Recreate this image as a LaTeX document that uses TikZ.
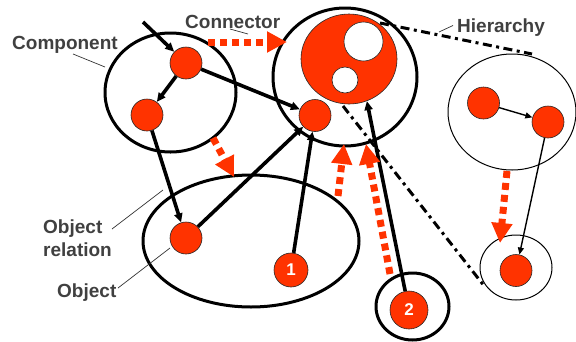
\documentclass[tikz,border=0pt]{standalone}
\usepackage{fontspec}
\setmainfont{Liberation Sans}
\usetikzlibrary{arrows.meta,shapes.geometric}
\definecolor{redfill}{RGB}{255,51,0}
\definecolor{lbl}{RGB}{64,64,64}
\begin{document}
\begin{tikzpicture}[x=1pt,y=-1pt,
  obj/.style={circle,fill=redfill,draw=black!85,line width=0.6pt,minimum size=32pt,inner sep=0pt},
  ring/.style={ellipse,draw=black,line width=3pt,inner sep=0pt},
  thinring/.style={ellipse,draw=black,line width=1pt,inner sep=0pt},
  blk/.style={line width=3.6pt,-{Triangle[length=9pt,width=8pt]}},
  thinarr/.style={line width=1.4pt,-{Triangle[length=7pt,width=6pt]}},
  redarr/.style={draw=redfill,line width=7pt,dash pattern=on 7pt off 5pt,
     -{Triangle[length=20pt,width=20pt]},shorten >=0pt},
  dashdot/.style={line width=3pt,dash pattern=on 9pt off 4.5pt on 3pt off 4.5pt},
  lead/.style={line width=0.7pt,draw=black!80},
  txt/.style={text=lbl,font=\fontsize{19}{22}\selectfont\bfseries,inner sep=0pt},
  num/.style={text=white,font=\fontsize{17}{20}\selectfont\bfseries}]
\useasboundingbox (0,0) rectangle (576,341);
% containers
\node[ring,minimum width=131pt,minimum height=119pt] (comp) at (170.5,92.5) {};
\node[ring,minimum width=144pt,minimum height=138pt] (conn) at (345,77) {};
\node[ring,minimum width=216pt,minimum height=132pt] (objring) at (251,241) {};
\node[ring,minimum width=73pt,minimum height=67pt] (ring2) at (412.5,306.5) {};
\node[thinring,minimum width=128pt,minimum height=116pt] (hier) at (512,112) {};
\node[thinring,minimum width=72pt,minimum height=65pt] (ringG) at (516,267.5) {};
% core
\node[ellipse,fill=redfill,draw=black!85,line width=0.6pt,minimum width=96pt,minimum height=90pt,inner sep=0pt] (core) at (349,59) {};
\node[circle,fill=white,draw=black!85,line width=0.6pt,minimum size=39pt,inner sep=0pt] (hole1) at (363.5,41.5) {};
\node[circle,fill=white,draw=black!85,line width=0.6pt,minimum size=26pt,inner sep=0pt] (hole2) at (345,80) {};
% objects
\node[obj] (A) at (186,63) {};
\node[obj] (B) at (147,115) {};
\node[obj] (C) at (315,115.5) {};
\node[obj] (D) at (186,238) {};
\node[obj,minimum size=34pt] (n1) at (291,270) {};
\node[num] at (n1) {1};
\node[obj,minimum size=38pt] (n2) at (409,310) {};
\node[num] at (n2) {2};
\node[obj] (E) at (483.5,103) {};
\node[obj] (F) at (548,122) {};
\node[obj] (G) at (516,270.5) {};
% black connectors
\coordinate (inA) at (143,22);
\draw[blk] (inA) -- (A);
\draw[blk] (A) -- (B);
\draw[blk] (A) -- (C);
\draw[blk] (B) -- (D);
\draw[blk] (D) -- (C);
\draw[blk] (n1) -- (C);
\draw[blk] (n2) -- (core.-67);
\draw[thinarr] (E) -- (F);
\draw[thinarr] (F) -- (G);
% hierarchy lines
\coordinate (h1s) at (380,23);
\coordinate (h1e) at (532,54);
\coordinate (h2s) at (343,106);
\coordinate (h2e) at (485,287);
\draw[dashdot] (h1s) -- (h1e);
\draw[dashdot] (h2s) -- (h2e);
% red dashed arrows
\coordinate (r1s) at (208,42); \coordinate (r1e) at (287,42);
\coordinate (r2s) at (213,138); \coordinate (r2e) at (234,177);
\coordinate (r3s) at (338,196); \coordinate (r3e) at (344,144);
\coordinate (r4s) at (390,274); \coordinate (r4e) at (366,144);
\coordinate (r5s) at (507,171); \coordinate (r5e) at (500,243);
\draw[redarr] (r1s) -- (r1e);
\draw[redarr] (r2s) -- (r2e);
\draw[redarr] (r3s) -- (r3e);
\draw[redarr] (r4s) -- (r4e);
\draw[redarr] (r5s) -- (r5e);
% labels
\node[txt,anchor=base west] (lcomp) at (12,49.5) {Component};
\node[txt,anchor=base west] (lconn) at (185,28.5) {Connector};
\node[txt,anchor=base west] (lhier) at (457,32) {Hierarchy};
\node[txt,anchor=base west] (lrel1) at (43,233) {Object};
\node[txt,anchor=base west] (lrel2) at (43,256) {relation};
\node[txt,anchor=base west] (lobj) at (57,297) {Object};
% leaders
\coordinate (c1) at (73,54); \coordinate (c2) at (105,67);
\draw[lead] (c1) -- (c2);
\coordinate (k1) at (230,29); \coordinate (k2) at (248,34);
\draw[lead] (k1) -- (k2);
\coordinate (q1) at (453,25.5); \coordinate (q2) at (439,32);
\draw[lead] (q1) -- (q2);
\coordinate (o1) at (112,229); \coordinate (o2) at (163,190);
\draw[lead] (o1) -- (o2);
\coordinate (p1) at (118,288); \coordinate (p2) at (170,248);
\draw[lead] (p1) -- (p2);
\end{tikzpicture}
\end{document}
